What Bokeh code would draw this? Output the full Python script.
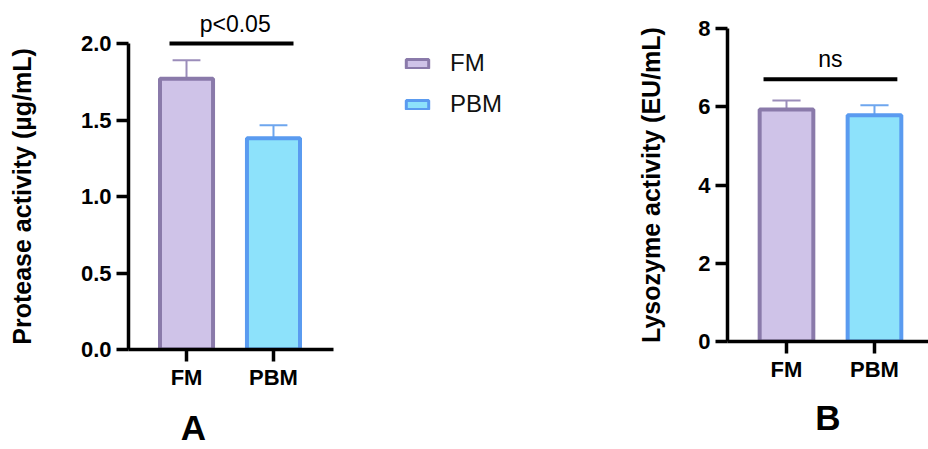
from bokeh.plotting import figure
from bokeh.layouts import row, column
from bokeh.models import (Range1d, FixedTicker, PrintfTickFormatter, ColumnDataSource,
                          Label, Legend, LegendItem, LinearAxis)
from bokeh.embed import file_html
from bokeh.resources import INLINE

# ---- data -------------------------------------------------------------
groups = ["FM", "PBM"]

protease_mean = [1.77, 1.38]      # µg/mL
protease_sd = [0.12, 0.085]
protease_ticks = [0.0, 0.5, 1.0, 1.5, 2.0]

lysozyme_mean = [5.93, 5.78]      # EU/mL
lysozyme_sd = [0.23, 0.26]
lysozyme_ticks = [0, 2, 4, 6, 8]

protease_sig = "p<0.05"
lysozyme_sig = "ns"

# ---- style ------------------------------------------------------------
FILL = ["#CFC3E8", "#8DE2FB"]
EDGE = ["#8A7AAA", "#5A9BF0"]
WHISKER = ["#9B8DBA", "#6EA6EE"]
FONT = "Liberation Sans"
BAR_W = 0.61
CAP_HALF = 0.16
XS = [i + 1 for i in range(len(groups))]


def bar_source(means, sds):
    return ColumnDataSource(dict(
        x=XS, top=means, upper=[m + s for m, s in zip(means, sds)],
        cap0=[x - CAP_HALF for x in XS], cap1=[x + CAP_HALF for x in XS],
        fill=FILL, edge=EDGE, wcol=WHISKER))


def bare_axis(**kw):
    """An axis with no rule or tick marks, used only for its tick labels."""
    ax = LinearAxis(axis_line_color=None, major_tick_line_color=None,
                    minor_tick_line_color=None, major_tick_out=0, major_tick_in=0,
                    major_label_text_font=FONT, major_label_text_color="black")
    ax.update(**kw)
    return ax


def panel(src, ticks, fmt, ylabel, letter, letter_x, letter_standoff,
          width, borders, x_range, ylabel_standoff):
    left, right, top, bottom = borders
    p = figure(width=width, height=449, output_backend="svg", toolbar_location=None,
               x_range=Range1d(*x_range), y_range=Range1d(ticks[0], ticks[-1]),
               min_border_left=left, min_border_right=right,
               min_border_top=top, min_border_bottom=bottom)
    p.grid.visible = False
    p.outline_line_color = None

    # error bars (upper half only), drawn behind the bars
    p.segment(x0="x", y0="top", x1="x", y1="upper", line_color="wcol",
              line_width=2, source=src)
    p.segment(x0="cap0", y0="upper", x1="cap1", y1="upper", line_color="wcol",
              line_width=2, source=src)
    p.vbar(x="x", top="top", width=BAR_W, fill_color="fill", line_color="edge",
           line_width=4, source=src)

    xax, yax = p.xaxis[0], p.yaxis[0]
    xax.ticker = FixedTicker(ticks=XS)
    xax.major_label_overrides = {x: g for x, g in zip(XS, groups)}
    yax.ticker = FixedTicker(ticks=ticks)
    yax.formatter = PrintfTickFormatter(format=fmt)
    yax.axis_label = ylabel
    yax.axis_label_standoff = ylabel_standoff
    for ax in (xax, yax):
        ax.axis_line_width = 3.5
        ax.axis_line_color = "black"
        ax.major_tick_line_width = 3.5
        ax.major_tick_line_color = "black"
        ax.major_tick_out = 12
        ax.major_tick_in = 0
        ax.minor_tick_line_color = None
        ax.major_label_text_font = FONT
        ax.major_label_text_font_style = "bold"
        ax.major_label_text_font_size = "22px"
        ax.major_label_text_color = "black"
        ax.axis_label_text_font = FONT
        ax.axis_label_text_font_style = "bold"
        ax.axis_label_text_font_size = "25px"
        ax.axis_label_text_color = "black"
    xax.major_label_standoff = 3
    yax.major_label_standoff = 5

    # panel letter under the category axis
    p.add_layout(bare_axis(ticker=FixedTicker(ticks=[letter_x]),
                           major_label_overrides={letter_x: letter},
                           major_label_standoff=letter_standoff,
                           major_label_text_font_size="35px",
                           major_label_text_font_style="bold"), "below")
    return p


# ---- panel A: protease --------------------------------------------------
src_a = bar_source(protease_mean, protease_sd)
pa = panel(src_a, protease_ticks, "%.1f", "Protease activity (µg/mL)", "A", 1.08, 15,
           340, (128, 7, 43, 99), (0.333, 2.69), 42)
# significance bar sits on the top edge of the plot area, label above it
sig_a = (0.805, 2.23)
mid_a = 1.56
pa.add_layout(bare_axis(ticker=FixedTicker(ticks=[mid_a]),
                        major_label_overrides={mid_a: protease_sig},
                        bounds=sig_a, axis_line_color="black", axis_line_width=4,
                        major_label_standoff=7, major_label_text_font_size="23px",
                        major_label_text_font_style="normal"), "above")

# ---- panel B: lysozyme --------------------------------------------------
src_b = bar_source(lysozyme_mean, lysozyme_sd)
pb = panel(src_b, lysozyme_ticks, "%d", "Lysozyme activity (EU/mL)", "B", 1.47, 13,
           298, (97, 0, 28, 108), (0.3295, 2.614), 30)
sig_b, level_b = (0.739, 2.26), 6.7
pb.segment(x0=[sig_b[0]], y0=[level_b], x1=[sig_b[1]], y1=[level_b],
           line_color="black", line_width=4)
pb.add_layout(Label(x=sum(sig_b) / 2, y=level_b, y_offset=20, text=lysozyme_sig,
                    text_align="center", text_baseline="alphabetic", text_font=FONT,
                    text_font_size="23px", text_color="black"))

# ---- shared legend ------------------------------------------------------
# legend swatches come from proxy bars that carry the group styles but no position
pl = figure(width=290, height=449, output_backend="svg", toolbar_location=None,
            x_axis_type=None, y_axis_type=None, x_range=Range1d(0, 1),
            y_range=Range1d(0, 1), min_border=0)
pl.grid.visible = False
pl.outline_line_color = None
proxy_src = ColumnDataSource(dict(x=[float("nan")] * len(groups), top=protease_mean,
                                  fill=FILL, edge=EDGE))
proxy = pl.vbar(x="x", top="top", width=BAR_W, fill_color="fill", line_color="edge",
                line_width=3, source=proxy_src)
items = [LegendItem(label=g, renderers=[proxy], index=i) for i, g in enumerate(groups)]
pl.add_layout(Legend(items=items, location=(63, 331), glyph_width=28, glyph_height=11,
                     label_text_font=FONT, label_text_font_size="24px",
                     label_text_color="#111111", label_standoff=19, spacing=13,
                     padding=0, margin=0, border_line_color=None,
                     background_fill_alpha=0))

layout = row(column(pa), column(pl), column(pb), spacing=0)
open("out.html", "w").write(file_html(layout, INLINE))
